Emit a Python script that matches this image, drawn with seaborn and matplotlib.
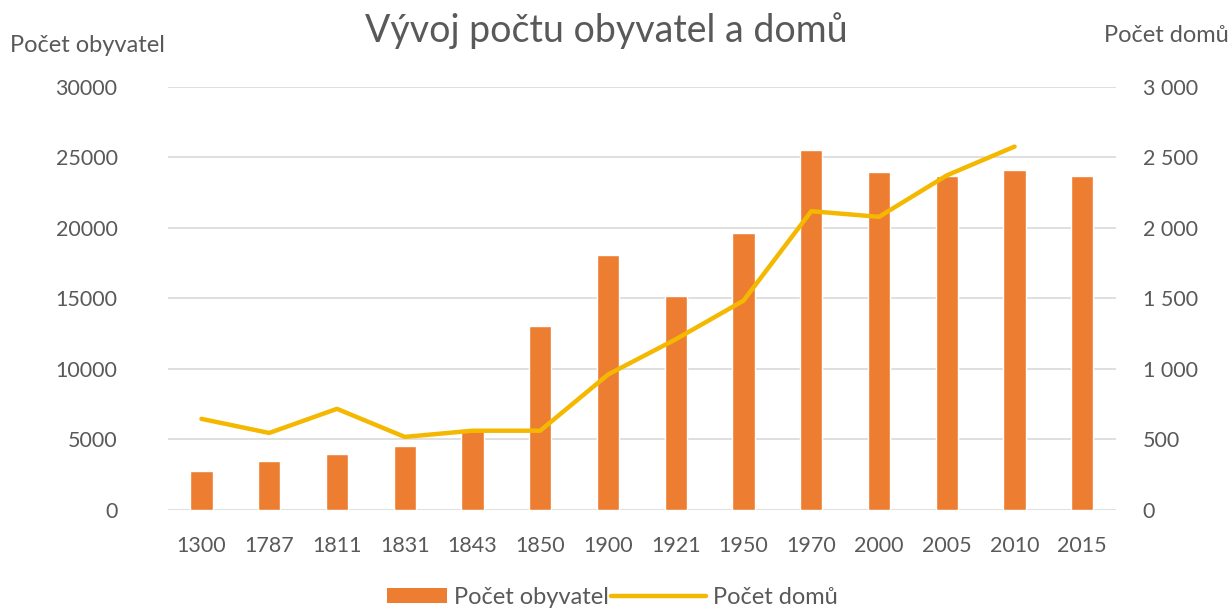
import numpy as np
import pandas as pd
import matplotlib
matplotlib.use("Agg")
import matplotlib.pyplot as plt
import seaborn as sns
from matplotlib.patches import Patch, Rectangle
from matplotlib.lines import Line2D
from matplotlib.legend_handler import HandlerPatch
from matplotlib.ticker import FuncFormatter, MultipleLocator

years = ["1300", "1787", "1811", "1831", "1843", "1850", "1900", "1921",
         "1950", "1970", "2000", "2005", "2010", "2015"]
population = [2750, 3500, 3970, 4560, 5570, 13030, 18100, 15190,
              19650, 25500, 23970, 23660, 24120, 23660]
houses = [646, 546, 717, 518, 562, 562, 960, 1210,
          1484, 2118, 2078, 2372, 2576, np.nan]

df = pd.DataFrame({"year": years, "pop": population, "houses": houses})

sns.set_theme(style="white")
plt.rcParams["font.family"] = ["Lato", "DejaVu Sans"]

BAR = "#ED7D31"
LINE = "#F5B800"
TXT = "#595959"
FS = 15.5
FS_LBL = 17

fig = plt.figure(figsize=(12.32, 6.12), dpi=100)
ax = fig.add_axes([0.136, 0.1667, 0.770, 0.6915])

sns.barplot(data=df, x="year", y="pop", color=BAR, width=0.33,
            saturation=1, ax=ax, zorder=2)
ax.set_ylim(0, 30000)
ax.yaxis.set_major_locator(MultipleLocator(5000))
ax.grid(axis="y", color="#D9D9D9", linewidth=1.2, zorder=0)
ax.set_axisbelow(True)
for s in ax.spines.values():
    s.set_visible(False)
ax.set_xlabel("")
ax.set_ylabel("")
ax.tick_params(axis="both", length=0, labelsize=FS, colors=TXT)
ax.tick_params(axis="y", pad=36)
ax.tick_params(axis="x", pad=19)

ax2 = ax.twinx()
sns.lineplot(data=df.dropna(), x="year", y="houses", sort=False, color=LINE,
             linewidth=3.2, ax=ax2)
ax2.set_ylim(0, 3000)
ax2.yaxis.set_major_locator(MultipleLocator(500))
ax2.yaxis.set_major_formatter(FuncFormatter(lambda v, p: f"{int(v):,}".replace(",", " ")))
for s in ax2.spines.values():
    s.set_visible(False)
ax2.set_ylabel("")
ax2.set_xlabel("")
ax2.tick_params(axis="y", length=0, labelsize=FS, colors=TXT, pad=19)
ax2.grid(False)
ax.set_xlim(-0.5, len(years) - 0.5)

fig.text(0.492, 0.950, "Vývoj počtu obyvatel a domů", ha="center", va="center",
         fontsize=27, color=TXT)
fig.text(0.008, 0.925, "Počet obyvatel", ha="left", va="center",
         fontsize=FS_LBL, color=TXT)
fig.text(0.997, 0.942, "Počet domů", ha="right", va="center",
         fontsize=FS_LBL, color=TXT)


def short_rect(legend, orig_handle, xdescent, ydescent, width, height, fontsize):
    w = width * 0.64
    return Rectangle((width - w - xdescent, -ydescent + height * 0.05), w, height * 0.9)


handles = [Patch(facecolor=BAR, edgecolor="none"),
           Line2D([0], [0], color=LINE, linewidth=3.2)]
fig.legend(handles, ["Počet obyvatel", "Počet domů"], loc="center",
           bbox_to_anchor=(0.483, 0.024), ncol=2, frameon=False, fontsize=FS_LBL,
           labelcolor=TXT, handlelength=4.0, handletextpad=0.3, columnspacing=0.1,
           handler_map={Patch: HandlerPatch(patch_func=short_rect)})

fig.savefig("out.png", dpi=100, facecolor="white")
